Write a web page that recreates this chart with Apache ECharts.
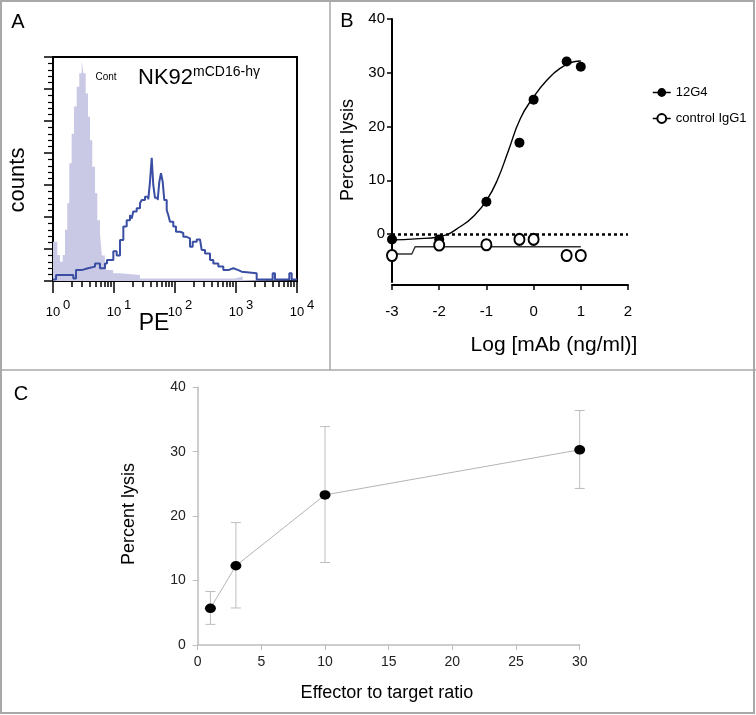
<!DOCTYPE html>
<html><head><meta charset="utf-8">
<script src="https://cdn.jsdelivr.net/npm/echarts@6/dist/echarts.min.js"></script>
<style>html,body{margin:0;padding:0;background:#fff}#c{width:756px;height:715px}</style>
</head><body><div id="c"></div>
<script>
// ---------- Panel A : flow cytometry histograms (x = log10 PE) ----------
const histExponents = ['0', '1', '2', '3', '4'];
const contLog = [0, 0.07, 0.115, 0.16, 0.197, 0.234, 0.267, 0.306, 0.344, 0.388, 0.431, 0.47, 0.497, 0.536, 0.574, 0.607, 0.644, 0.689, 0.726, 0.77, 0.80, 0.85, 0.88, 0.985, 1.098, 1.426, 2.98, 3.11, 4];
const contCounts = [1.23, 0.81, 0.6, 0.81, 1.6, 2.43, 3.68, 4.6, 5.45, 6.07, 6.49, 6.9, 6.49, 5.86, 5.13, 4.4, 3.57, 2.74, 1.9, 1.5, 0.8, 0.45, 0.34, 0.24, 0.19, 0.08, 0.14, 0.03, 0.03];
const nkLog = [0, 0.05, 0.333, 0.377, 0.47, 0.574, 0.689, 0.77, 0.852, 0.885, 0.989, 1.044, 1.098, 1.153, 1.208, 1.262, 1.29, 1.316, 1.372, 1.426, 1.454, 1.508, 1.562, 1.59, 1.618, 1.644, 1.672, 1.716, 1.743, 1.77, 1.798, 1.825, 1.864, 1.89, 1.918, 1.972, 2.016, 2.082, 2.136, 2.19, 2.246, 2.29, 2.356, 2.41, 2.437, 2.492, 2.574, 2.628, 2.71, 2.792, 2.874, 2.956, 3.038, 3.093, 3.339, 3.601, 3.639, 3.874, 3.913, 4];
const nkCounts = [0.05, 0.19, 0.08, 0.34, 0.4, 0.45, 0.55, 0.4, 0.55, 0.66, 0.93, 0.8, 1.28, 1.7, 1.9, 2.06, 1.95, 2.17, 2.27, 2.43, 2.53, 2.63, 2.55, 3.1, 3.85, 3.0, 2.6, 2.53, 3.1, 3.37, 3.1, 2.53, 2.22, 2.06, 1.85, 1.7, 1.54, 1.5, 1.38, 1.33, 1.07, 1.23, 1.3, 1.3, 0.97, 0.86, 0.66, 0.55, 0.45, 0.34, 0.4, 0.34, 0.29, 0.24, 0.05, 0.24, 0.05, 0.24, 0.05, 0.05];

// ---------- Panel B : ADCC dose response ----------
const bTicksY = [0, 10, 20, 30, 40];
const doseLog = [-3, -2, -1, -0.3, 0, 0.7, 1];
const lysis12G4 = [-1, -1, 6, 17, 25, 32.1, 31.1];
const lysisCtrl = [-4, -2.05, -2, -1, -1, -4, -4];
const fit12G4X = [-3, -2.5, -2, -1.5, -1.25, -1, -0.77, -0.53, -0.28, 0, 0.28, 0.56, 0.85, 1];
const fit12G4Y = [-1.1, -0.9, -0.5, 1.67, 3.5, 6.2, 10, 15.6, 21.5, 25.5, 28.6, 30.8, 32.05, 32.2];
const fitCtrlX = [-3, -2.58, -2.51, 1];
const fitCtrlY = [-3.72, -3.72, -2.36, -2.36];

// ---------- Panel C : E:T ratio ----------
const etRatio = [1, 3, 10, 30];
const lysisMean = [5.7, 12.3, 23.3, 30.3];
const lysisLow = [3.2, 5.75, 12.8, 24.3];
const lysisHigh = [8.3, 19.0, 33.9, 36.4];

const REG = '"Liberation Sans", Arial, Helvetica, sans-serif';
const NAR = '"Liberation Sans Narrow", "Arial Narrow", "Liberation Sans", Arial, sans-serif';

const minorTicks = [];
for (let d = 0; d < 4; d++) for (let k = 2; k <= 9; k++) minorTicks.push(d + Math.log10(k));

const zip = (a, b) => a.map((x, i) => [x, b[i]]);
const chart = echarts.init(document.getElementById('c'), null, {renderer: 'canvas'});

const txt = (x, y, text, size, opts) => Object.assign({
  type: 'text', x: x, y: y, silent: true,
  style: Object.assign({text: text, fontSize: size, fontFamily: REG, fill: '#000', align: 'center', verticalAlign: 'middle'}, opts && opts.style || {})
}, opts && opts.rotation ? {rotation: opts.rotation} : {});

chart.setOption({
  animation: false,
  backgroundColor: '#fff',
  grid: [
    {left: 53, top: 57, width: 244, height: 224, show: true, borderColor: '#000', borderWidth: 2, backgroundColor: 'transparent'},
    {left: 392, top: 19, width: 236, height: 263},
    {left: 197.7, top: 387.3, width: 382, height: 257.7}
  ],
  xAxis: [
    {gridIndex: 0, type: 'value', position: 'bottom', min: 0, max: 4, interval: 1,
      axisLine: {onZero: false, lineStyle: {color: '#000', width: 2}},
      axisTick: {length: 12, lineStyle: {color: '#000', width: 1.5}},
      splitLine: {show: false},
      axisLabel: {margin: 18, color: '#000',
        formatter: v => '{b|10}{s|' + histExponents[Math.round(v)] + '}',
        rich: {b: {fontSize: 13, fontFamily: REG, lineHeight: 20, verticalAlign: 'bottom', padding: [0, 0, 0, 10]},
               s: {fontSize: 13, fontFamily: REG, lineHeight: 4, verticalAlign: 'top', padding: [0, 0, 0, 3]}}}},
    {gridIndex: 0, type: 'value', position: 'bottom', min: 0, max: 4,
      axisLine: {show: false}, axisLabel: {show: false}, splitLine: {show: false},
      axisTick: {show: true, customValues: minorTicks, length: 6, lineStyle: {color: '#000', width: 1.5}}},
    {gridIndex: 1, type: 'value', position: 'bottom', min: -3, max: 2, interval: 1, offset: 3,
      axisLine: {onZero: false, lineStyle: {color: '#000', width: 2}},
      axisTick: {length: 5, lineStyle: {color: '#000', width: 1.5}},
      splitLine: {show: false},
      axisLabel: {margin: 19, fontSize: 15, fontFamily: NAR, color: '#000'}},
    {gridIndex: 2, type: 'value', position: 'bottom', min: 0, max: 30, interval: 5,
      axisLine: {onZero: false, lineStyle: {color: '#bdbdbd', width: 1.5}},
      axisTick: {length: 5, lineStyle: {color: '#bdbdbd', width: 1}},
      splitLine: {show: false},
      axisLabel: {margin: 10, fontSize: 14, fontFamily: REG, color: '#222'}}
  ],
  yAxis: [
    {gridIndex: 0, type: 'value', min: 0, max: 7, interval: 1,
      axisLine: {show: true, onZero: false, lineStyle: {color: '#000', width: 2}},
      axisTick: {show: true, length: 9, lineStyle: {color: '#000', width: 1.5}},
      minorTick: {show: true, splitNumber: 5, length: 5, lineStyle: {color: '#000', width: 1.2}},
      axisLabel: {show: false}, splitLine: {show: false}, minorSplitLine: {show: false}},
    {gridIndex: 1, type: 'value', min: -8.93, max: 40,
      axisLine: {show: true, onZero: false, lineStyle: {color: '#000', width: 2}},
      axisTick: {show: true, length: 5, customValues: bTicksY, lineStyle: {color: '#000', width: 1.5}},
      axisLabel: {customValues: bTicksY, margin: 7, fontSize: 15, fontFamily: NAR, color: '#000'},
      splitLine: {show: false}},
    {gridIndex: 2, type: 'value', min: 0, max: 40, interval: 10,
      axisLine: {show: true, onZero: false, lineStyle: {color: '#bdbdbd', width: 1.5}},
      axisTick: {show: true, length: 5, lineStyle: {color: '#bdbdbd', width: 1}},
      axisLabel: {margin: 12, fontSize: 14, fontFamily: REG, color: '#222'},
      splitLine: {show: false}}
  ],
  legend: {
    left: 652, top: 86, padding: 0, orient: 'vertical', itemWidth: 18, itemHeight: 11, itemGap: 13,
    selectedMode: false,
    textStyle: {fontSize: 13, fontFamily: NAR, color: '#000'},
    lineStyle: {opacity: 1, width: 1.5, color: '#000'},
    data: [
      {name: '12G4', itemStyle: {color: '#000'}},
      {name: 'control IgG1', itemStyle: {color: '#fff', borderColor: '#000', borderWidth: 2}}
    ]
  },
  series: [
    // A
    {type: 'line', xAxisIndex: 0, yAxisIndex: 0, step: 'end', symbol: 'none', silent: true,
      data: zip(contLog, contCounts), lineStyle: {width: 0}, areaStyle: {color: '#c9c8e5', opacity: 1}, z: 1},
    {type: 'line', xAxisIndex: 0, yAxisIndex: 0, step: 'end', symbol: 'none', silent: true,
      data: zip(nkLog, nkCounts), lineStyle: {width: 2, color: '#3a4ea3'}, z: 3},
    // B
    {type: 'line', xAxisIndex: 2, yAxisIndex: 1, smooth: true, symbol: 'none', silent: true,
      data: zip(fit12G4X, fit12G4Y), lineStyle: {color: '#000', width: 1.4}, z: 3,
      markLine: {silent: true, symbol: 'none', label: {show: false},
        lineStyle: {type: [3, 3], width: 2.5, color: '#000'}, data: [{yAxis: 0}]}},
    {type: 'line', xAxisIndex: 2, yAxisIndex: 1, symbol: 'none', silent: true,
      data: zip(fitCtrlX, fitCtrlY), lineStyle: {color: '#333', width: 1.4}, z: 3},
    {name: '12G4', type: 'line', xAxisIndex: 2, yAxisIndex: 1, showAllSymbol: true,
      symbol: 'circle', symbolSize: 10, data: zip(doseLog, lysis12G4),
      itemStyle: {color: '#000'}, lineStyle: {opacity: 0, color: '#000'}, z: 5},
    {name: 'control IgG1', type: 'line', xAxisIndex: 2, yAxisIndex: 1, showAllSymbol: true,
      symbol: 'circle', symbolSize: [10, 11], data: zip(doseLog, lysisCtrl),
      itemStyle: {color: '#fff', borderColor: '#000', borderWidth: 2}, lineStyle: {opacity: 0, color: '#000'}, z: 5},
    // C
    {type: 'custom', xAxisIndex: 3, yAxisIndex: 2, silent: true, z: 2,
      data: etRatio.map((x, i) => [x, lysisLow[i], lysisHigh[i]]),
      encode: {x: 0, y: [1, 2]},
      renderItem: function (params, api) {
        const x = api.value(0);
        const lo = api.coord([x, api.value(1)]);
        const hi = api.coord([x, api.value(2)]);
        const w = 5;
        const st = {stroke: '#bdbdbd', lineWidth: 1};
        return {type: 'group', children: [
          {type: 'line', shape: {x1: lo[0], y1: lo[1], x2: hi[0], y2: hi[1]}, style: st},
          {type: 'line', shape: {x1: lo[0] - w, y1: lo[1], x2: lo[0] + w, y2: lo[1]}, style: st},
          {type: 'line', shape: {x1: hi[0] - w, y1: hi[1], x2: hi[0] + w, y2: hi[1]}, style: st}
        ]};
      }},
    {type: 'line', xAxisIndex: 3, yAxisIndex: 2, symbol: 'circle', symbolSize: [11, 9.5], showAllSymbol: true,
      data: zip(etRatio, lysisMean), itemStyle: {color: '#000'}, lineStyle: {color: '#b4b4b4', width: 1}, z: 5}
  ],
  graphic: [
    {type: 'rect', silent: true, shape: {x: 1, y: 1, width: 753, height: 712}, style: {fill: 'none', stroke: '#a8a8a8', lineWidth: 2}},
    {type: 'line', silent: true, shape: {x1: 330, y1: 0, x2: 330, y2: 370}, style: {stroke: '#a8a8a8', lineWidth: 1.5}},
    {type: 'line', silent: true, shape: {x1: 0, y1: 370, x2: 756, y2: 370}, style: {stroke: '#a8a8a8', lineWidth: 1.5}},
    txt(18, 22, 'A', 20),
    txt(347, 21, 'B', 20),
    txt(21, 394, 'C', 20),
    txt(18, 180, 'counts', 22, {rotation: Math.PI / 2}),
    txt(154, 324, 'PE', 23),
    txt(106, 77, 'Cont', 10, {style: {fontFamily: NAR}}),
    {type: 'text', x: 138, y: 77, silent: true, style: {
      text: '{a|NK92}{b|mCD16-hγ}', align: 'left', verticalAlign: 'middle',
      rich: {a: {fontSize: 22, fontFamily: REG, lineHeight: 24, verticalAlign: 'bottom', fill: '#000'},
             b: {fontSize: 14, fontFamily: REG, lineHeight: 12, verticalAlign: 'top', fill: '#000'}}}},
    txt(348, 150, 'Percent lysis', 18, {rotation: Math.PI / 2}),
    txt(554, 345, 'Log [mAb (ng/ml)]', 21),
    txt(129, 514, 'Percent lysis', 18, {rotation: Math.PI / 2}),
    txt(387, 693, 'Effector to target ratio', 18)
  ]
});
</script></body></html>
